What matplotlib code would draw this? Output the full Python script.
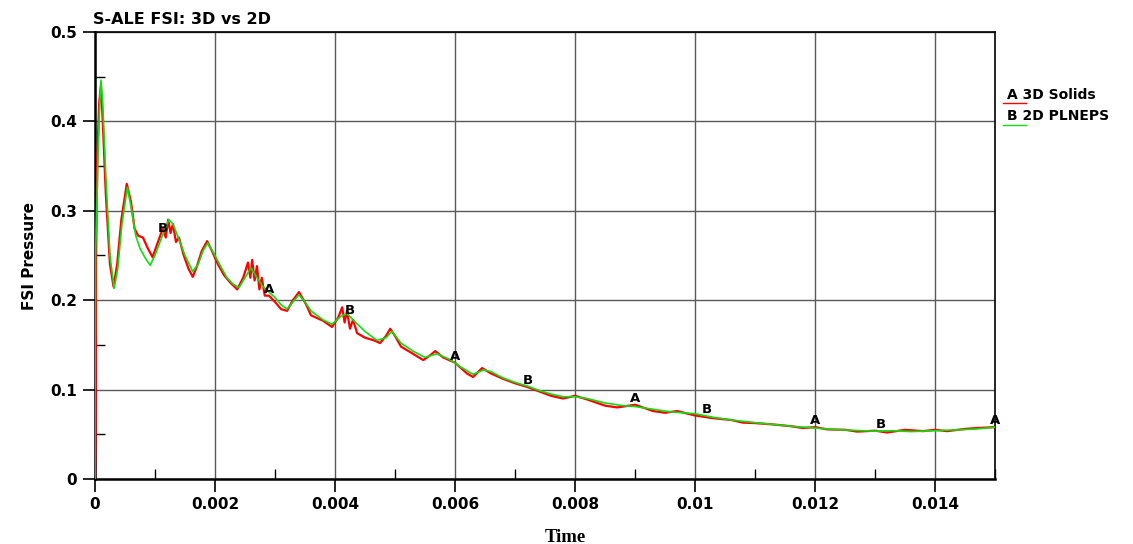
import numpy as np
import matplotlib
matplotlib.use('Agg')
import matplotlib.pyplot as plt
from matplotlib.lines import Line2D
from matplotlib.ticker import MultipleLocator

# A: 3D Solids (red)
t_a = [0, 0.00001, 0.00002, 0.00004, 0.00007, 0.0001, 0.00013, 0.00018, 0.00025, 0.00031,
       0.00037, 0.00044, 0.00053, 0.0006, 0.00066, 0.00072, 0.0008, 0.00088, 0.00096, 0.00105,
       0.00113, 0.00118, 0.00122, 0.00126, 0.0013, 0.00135, 0.0014, 0.00148, 0.00156, 0.00163,
       0.0017, 0.00178, 0.00187, 0.00195, 0.00205, 0.00215, 0.00225, 0.00237, 0.00247, 0.00255,
       0.00259, 0.00262, 0.00266, 0.0027, 0.00274, 0.00278, 0.00283, 0.0029, 0.003, 0.0031,
       0.0032, 0.0033, 0.0034, 0.00352, 0.0036, 0.0038, 0.00395, 0.00405, 0.00412, 0.00416,
       0.0042, 0.00425, 0.0043, 0.00437, 0.0045, 0.00465, 0.00475, 0.00485, 0.00492, 0.005,
       0.0051, 0.0053, 0.00547, 0.00558, 0.00567, 0.0058, 0.006, 0.0062, 0.0063, 0.00645,
       0.0066, 0.0068, 0.007, 0.0072, 0.0074, 0.0076, 0.0078, 0.008, 0.0082, 0.0085,
       0.0087, 0.009, 0.0093, 0.0095, 0.0097, 0.01, 0.0103, 0.0106, 0.0108, 0.011,
       0.0113, 0.0116, 0.0118, 0.012, 0.0122, 0.0125, 0.0127, 0.013, 0.0132, 0.0135,
       0.0138, 0.014, 0.0142, 0.0145, 0.0147, 0.015]
p_a = [0, 0.05, 0.25, 0.36, 0.42, 0.44, 0.40, 0.32, 0.24, 0.215,
       0.24, 0.29, 0.33, 0.31, 0.28, 0.272, 0.27, 0.258, 0.248, 0.265,
       0.28, 0.27, 0.29, 0.275, 0.285, 0.265, 0.27, 0.25, 0.235, 0.226,
       0.238, 0.255, 0.266, 0.255, 0.24, 0.228, 0.22, 0.212, 0.225, 0.242,
       0.225, 0.245, 0.222, 0.238, 0.212, 0.225, 0.205, 0.205, 0.198, 0.19,
       0.188, 0.2, 0.209, 0.195, 0.183, 0.177, 0.17, 0.18, 0.192, 0.175,
       0.188, 0.168, 0.178, 0.163, 0.158, 0.155, 0.152, 0.16, 0.168, 0.16,
       0.148, 0.14, 0.133, 0.138, 0.143, 0.136, 0.13, 0.118, 0.114, 0.124,
       0.118, 0.112, 0.107, 0.103, 0.098, 0.093, 0.09, 0.093, 0.089, 0.082,
       0.08, 0.083, 0.076, 0.074, 0.076, 0.071, 0.068, 0.066, 0.063, 0.0625,
       0.061, 0.059, 0.057, 0.058, 0.0555, 0.055, 0.053, 0.054, 0.052, 0.055,
       0.0535, 0.055, 0.0535, 0.056, 0.057, 0.058]

# B: 2D PLNEPS (green)
t_b = [0, 0.000005, 0.00001, 0.00003, 0.00005, 0.00008, 0.0001, 0.00013, 0.00018, 0.00025,
       0.00032, 0.00038, 0.00045, 0.00054, 0.0006, 0.00068, 0.00075, 0.00083, 0.00092, 0.001,
       0.0011, 0.00123, 0.0013, 0.0014, 0.0015, 0.00163, 0.00172, 0.0018, 0.00188, 0.002,
       0.0021, 0.0022, 0.0023, 0.0024, 0.0025, 0.0026, 0.0027, 0.0028, 0.003, 0.0031,
       0.0032, 0.0033, 0.0034, 0.0035, 0.0036, 0.0038, 0.00395, 0.0041, 0.0042, 0.0043,
       0.0045, 0.0047, 0.00485, 0.00495, 0.0051, 0.0053, 0.0055, 0.0057, 0.0059, 0.0061,
       0.0063, 0.00648, 0.0066, 0.0068, 0.007, 0.0072, 0.0074, 0.0076, 0.0078, 0.008,
       0.0082, 0.0085, 0.0088, 0.009, 0.0093, 0.0096, 0.01, 0.0103, 0.0106, 0.011,
       0.0113, 0.0116, 0.012, 0.0124, 0.0128, 0.013, 0.0133, 0.0136, 0.014, 0.0144,
       0.0147, 0.015]
p_b = [0, 0.15, 0.25, 0.3, 0.36, 0.42, 0.446, 0.42, 0.34, 0.25,
       0.213, 0.235, 0.285, 0.326, 0.305, 0.272, 0.258, 0.248, 0.239, 0.25,
       0.268, 0.29, 0.285, 0.268, 0.25, 0.232, 0.24, 0.255, 0.264, 0.25,
       0.237, 0.225, 0.218, 0.214, 0.225, 0.236, 0.225, 0.215, 0.203, 0.195,
       0.19, 0.198, 0.206, 0.198, 0.188, 0.178, 0.173, 0.182, 0.185, 0.178,
       0.165, 0.155, 0.158, 0.165, 0.152, 0.143, 0.136, 0.14, 0.134, 0.125,
       0.117, 0.122, 0.12, 0.113, 0.108, 0.104, 0.099, 0.095, 0.092, 0.092,
       0.09, 0.085, 0.082, 0.081, 0.078, 0.075, 0.073, 0.069, 0.066, 0.063,
       0.061, 0.059, 0.057, 0.055, 0.054, 0.0535, 0.054, 0.053, 0.054, 0.055,
       0.056, 0.058]

label_t_a = [0.0029, 0.006, 0.009, 0.012, 0.015]
label_t_b = [0.00113, 0.00425, 0.00722, 0.0102, 0.0131]

fnt = 'DejaVu Sans'
fig = plt.figure(figsize=(11.33, 5.44), dpi=100)
ax = fig.add_axes([0.0838, 0.1195, 0.7945, 0.822])

ax.plot(t_a, p_a, color='#ff0000', lw=1.6, zorder=3)
ax.plot(t_b, p_b, color='#11dd11', lw=1.2, zorder=4)

for t in label_t_a:
    ax.annotate('A', (t, np.interp(t, t_a, p_a)), xytext=(0, 4.5), textcoords='offset points',
                ha='center', va='center', fontsize=9.5, fontweight='bold', family=fnt, zorder=5)
for t in label_t_b:
    ax.annotate('B', (t, np.interp(t, t_b, p_b)), xytext=(0, 4.5), textcoords='offset points',
                ha='center', va='center', fontsize=9.5, fontweight='bold', family=fnt, zorder=5)

ax.set_xlim(0, 0.015)
ax.set_ylim(0, 0.5)
ax.xaxis.set_minor_locator(MultipleLocator(0.001))
ax.yaxis.set_minor_locator(MultipleLocator(0.05))
ax.set_xticks([0, 0.002, 0.004, 0.006, 0.008, 0.01, 0.012, 0.014])
ax.set_xticklabels(['0', '0.002', '0.004', '0.006', '0.008', '0.01', '0.012', '0.014'])
ax.set_yticks([0, 0.1, 0.2, 0.3, 0.4, 0.5])
ax.set_yticklabels(['0', '0.1', '0.2', '0.3', '0.4', '0.5'])
ax.tick_params(which='major', direction='out', length=9, width=1.2, labelsize=11, pad=4)
ax.tick_params(which='minor', direction='in', length=7, width=1.0)
for lab in ax.get_xticklabels() + ax.get_yticklabels():
    lab.set_fontweight('bold')
    lab.set_family(fnt)

ax.grid(True, which='major', color='#5a5a5a', lw=1.0)
for s in ax.spines.values():
    s.set_linewidth(1.2)
ax.spines['left'].set_linewidth(1.8)
ax.spines['bottom'].set_linewidth(1.8)

fig.text(0.082, 0.965, 'S-ALE FSI: 3D vs 2D', fontsize=11.5, fontweight='bold', family=fnt,
         ha='left', va='center')
fig.text(0.026, 0.53, 'FSI Pressure', fontsize=11, fontweight='bold', family=fnt,
         rotation=90, ha='center', va='center')
fig.text(0.499, 0.012, 'Time', fontsize=13.5, fontweight='bold', family='Liberation Serif',
         ha='center', va='center')

fig.text(0.889, 0.826, 'A 3D Solids', fontsize=10, fontweight='bold', family=fnt,
         ha='left', va='center')
fig.text(0.889, 0.786, 'B 2D PLNEPS', fontsize=10, fontweight='bold', family=fnt,
         ha='left', va='center')
fig.add_artist(Line2D([0.885, 0.906], [0.811, 0.811], color='#ff0000', lw=1.0))
fig.add_artist(Line2D([0.885, 0.906], [0.771, 0.771], color='#11dd11', lw=1.0))

fig.savefig('out.png', dpi=100)
